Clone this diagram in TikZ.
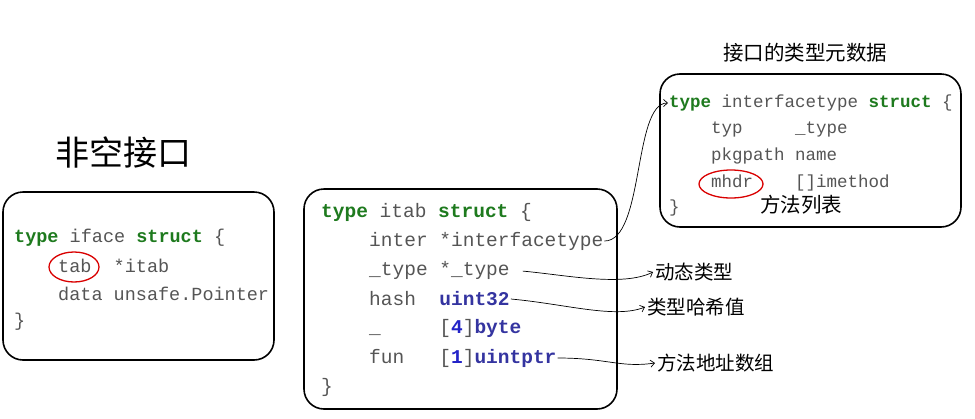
\documentclass[tikz,border=0pt]{standalone}
\usepackage{fontspec}
\setmonofont{Liberation Mono}
\newfontfamily\cjk{Noto Sans CJK SC}
\usetikzlibrary{positioning, arrows.meta}
\definecolor{kwgreen}{HTML}{1E7A1E}
\definecolor{kwblue}{HTML}{3434A0}
\definecolor{numblue}{HTML}{2323C8}
\definecolor{codegray}{HTML}{555555}
\newcommand{\kw}[1]{\textcolor{kwgreen}{\bfseries #1}}
\newcommand{\ty}[1]{\textcolor{kwblue}{\bfseries #1}}
\newcommand{\nm}[1]{\textcolor{numblue}{\bfseries #1}}
\tikzset{
  panel/.style={draw, line width=1.6pt, rounded corners=20pt},
  code/.style={anchor=west, inner sep=1pt, text=codegray, font=\ttfamily\fontsize{#1}{#1}\selectfont},
  code/.default=19.5,
  lbl/.style={anchor=west, inner sep=2pt, font=\cjk\fontsize{19.5}{20}\selectfont},
  link/.style={-{Straight Barb[length=4pt,width=7pt]}, line width=0.7pt},
  hilite/.style={draw=red!85!black, line width=1.3pt}
}

\begin{document}
\begin{tikzpicture}[x=1pt,y=-1pt]
\useasboundingbox (0,0) rectangle (975,418);

% non-empty interface
\node[font=\cjk\fontsize{34}{36}\selectfont] (title) at (123,153) {非空接口};
\draw[panel] (3,192) rectangle (274,360);
\node[code=18.5] (ifhead) at (13,238) {\kw{type} iface \kw{struct} \{};
\node[code=18.5] (iftab)  at (57,266) {tab\ \ *itab};
\node[code=18.5] (ifdata) at (57,294) {data unsafe.Pointer};
\node[code=18.5] (ifend)  at (13,322) {\}};
\draw[hilite] (74,267) ellipse (25 and 15);

% itab
\draw[panel] (304,189) rectangle (617,409);
\node[code] (itabhead)  at (320,212) {\kw{type} itab \kw{struct} \{};
\node[code] (itabinter) at (368,241) {inter *interfacetype};
\node[code] (itabtype)  at (368,270) {\_type *\_type};
\node[code] (itabhash)  at (368,299) {hash\ \ \ty{uint32}};
\node[code] (itabpad)   at (368,328) {\_\ \ \ \ \ [\nm{4}]\ty{byte}};
\node[code] (itabfun)   at (368,358) {fun\ \ \ [\nm{1}]\ty{uintptr}};
\node[code] (itabend)   at (320,387) {\}};

% interfacetype
\node[font=\cjk\fontsize{20.5}{22}\selectfont] (meta) at (805,53) {接口的类型元数据};
\draw[panel] (660,74) rectangle (961,227);
\node[code=17.5] (ithead) at (668,103) {\kw{type} interfacetype \kw{struct} \{};
\node[code=17.5] (ittyp)  at (710,129) {typ\ \ \ \ \ \_type};
\node[code=17.5] (itpkg)  at (710,156) {pkgpath name};
\node[code=17.5] (itmhdr) at (710,183) {mhdr\ \ \ \ []imethod};
\node[code=17.5] (itend)  at (668,208) {\}};
\draw[hilite] (731,184) ellipse (32 and 14);
\node[lbl, font=\cjk\fontsize{20.5}{22}\selectfont] (mlist) at (758,205) {方法列表};

% notes
\node[lbl] (dyn)  at (653,272) {动态类型};
\node[lbl] (hsh)  at (645,307) {类型哈希值};
\node[lbl] (fadr) at (655,363) {方法地址数组};

\draw[link] (itabinter.east) .. controls +(40,0) and +(-35,0) .. (ithead.west);
\draw[link, shorten <=12pt] (itabtype.east) .. controls +(55,5) and +(-30,15) .. (dyn.west);
\draw[link] (itabhash.east) .. controls +(55,5) and +(-30,12) .. (hsh.west);
\draw[link] (itabfun.east) .. controls +(50,0) and +(-35,5) .. (fadr.west);
\end{tikzpicture}
\end{document}
